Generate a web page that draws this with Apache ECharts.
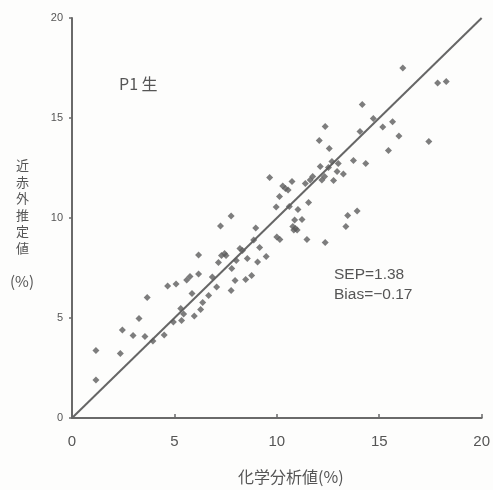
<!DOCTYPE html>
<html>
<head>
<meta charset="utf-8">
<script src="https://cdn.jsdelivr.net/npm/echarts@6/dist/echarts.min.js"></script>
<style>
  html, body { margin: 0; padding: 0; background: #fdfdfc; }
  #chart { width: 493px; height: 490px; }
</style>
</head>
<body>
<div id="chart"></div>
<script>
  // 化学分析値 (x) vs 近赤外推定値 (y)
  const chemX = [
    1.17, 1.17, 2.36, 2.46, 2.98, 3.27, 3.56, 3.95, 4.5, 3.67,
    4.67, 5.08, 5.6, 5.76, 5.86, 5.31, 5.45, 5.35, 4.95, 5.97,
    6.28, 6.38, 6.67, 6.18, 6.18, 6.85, 7.06, 7.25, 7.77, 7.15,
    7.3, 7.45, 7.52, 7.8, 7.96, 7.77, 8.02, 8.2, 8.32, 8.48,
    8.77, 8.56, 9.06, 9.16, 8.87, 8.97, 9.48, 9.97, 10.0, 10.15,
    9.65, 10.74, 10.29, 10.42, 10.55, 11.39, 11.63, 12.12, 12.52, 13.0,
    12.33, 12.2, 12.94, 12.77, 13.25, 10.13, 10.61, 11.03, 11.55, 10.87,
    11.23, 10.78, 10.91, 10.83, 10.99, 11.47, 12.36, 13.37, 13.46, 13.92,
    12.36, 12.07, 12.56, 14.71, 14.06, 15.17, 15.65, 15.96, 15.45, 13.74,
    14.34, 12.69, 11.75, 16.15, 17.85, 18.27, 17.42, 14.17
  ];
  const nirY = [
    1.9, 3.37, 3.23, 4.4, 4.13, 4.98, 4.07, 3.85, 4.15, 6.03,
    6.6, 6.7, 6.9, 7.07, 6.23, 5.48, 5.2, 4.87, 4.8, 5.1,
    5.43, 5.77, 6.13, 7.2, 8.15, 7.05, 6.55, 9.6, 10.1, 7.77,
    8.12, 8.22, 8.12, 7.48, 6.87, 6.37, 7.88, 8.48, 8.37, 6.93,
    7.13, 7.98, 7.8, 8.52, 8.9, 9.5, 8.07, 10.55, 9.05, 8.93,
    12.03, 11.82, 11.6, 11.48, 11.4, 11.73, 11.9, 12.57, 12.53, 12.73,
    12.07, 11.9, 12.33, 11.87, 12.2, 11.07, 10.57, 10.43, 10.77, 9.9,
    9.93, 9.57, 9.48, 9.4, 9.4, 8.93, 8.77, 9.57, 10.12, 10.35,
    14.57, 13.87, 13.48, 14.98, 14.32, 14.55, 14.81, 14.1, 13.38, 12.87,
    12.73, 12.82, 12.07, 17.5, 16.75, 16.83, 13.82, 15.68
  ];
  const lineX = [0, 20];
  const lineY = [0, 20];
  const tickVals = [0, 5, 10, 15, 20];

  const points = chemX.map((x, i) => [x, nirY[i]]);
  const diag = lineX.map((x, i) => [x, lineY[i]]);

  const axisColor = '#6a6a6a';
  const textColor = '#555';
  const latin = 'Arial, "Liberation Sans", sans-serif';
  const cjk = '"Noto Sans CJK JP", "Noto Sans CJK SC", sans-serif';

  const chart = echarts.init(document.getElementById('chart'));
  chart.setOption({
    backgroundColor: '#fdfdfc',
    animation: false,
    grid: { left: 72, right: 10, top: 18, bottom: 72 },
    xAxis: {
      type: 'value',
      min: tickVals[0],
      max: tickVals[tickVals.length - 1],
      interval: 5,
      axisLine: { show: true, lineStyle: { color: axisColor, width: 2 } },
      axisTick: { show: true, inside: true, length: 4, lineStyle: { color: axisColor, width: 1.5 } },
      axisLabel: { color: textColor, fontSize: 15, margin: 16, fontFamily: latin },
      splitLine: { show: false }
    },
    yAxis: {
      type: 'value',
      min: tickVals[0],
      max: tickVals[tickVals.length - 1],
      interval: 5,
      axisLine: { show: true, lineStyle: { color: axisColor, width: 2 } },
      axisTick: { show: true, length: 3, lineStyle: { color: axisColor, width: 1.5 } },
      axisLabel: { color: textColor, fontSize: 11, margin: 9, fontFamily: latin },
      splitLine: { show: false }
    },
    series: [
      {
        type: 'line',
        data: diag,
        symbol: 'none',
        lineStyle: { color: '#666', width: 2 },
        silent: true,
        z: 2
      },
      {
        type: 'scatter',
        data: points,
        symbol: 'diamond',
        symbolSize: 7,
        itemStyle: { color: '#5c5c5c' },
        z: 3
      }
    ],
    graphic: [
      {
        type: 'text', left: 119, top: 76,
        style: { text: 'P1 生', fill: textColor, fontSize: 16, fontFamily: cjk }
      },
      {
        type: 'text', left: 334, top: 265,
        style: { text: 'SEP=1.38\nBias=−0.17', fill: textColor, fontSize: 15.5, lineHeight: 20, fontFamily: latin }
      },
      {
        type: 'text', left: 16, top: 157,
        style: { text: '近\n赤\n外\n推\n定\n値', fill: textColor, fontSize: 13, lineHeight: 16.5, fontFamily: cjk }
      },
      {
        type: 'text', left: 10, top: 274,
        style: { text: '(%)', fill: textColor, fontSize: 15, fontFamily: cjk }
      },
      {
        type: 'text', left: 238, top: 469,
        style: { text: '化学分析値(%)', fill: textColor, fontSize: 16, fontFamily: cjk }
      }
    ]
  });
</script>
</body>
</html>
